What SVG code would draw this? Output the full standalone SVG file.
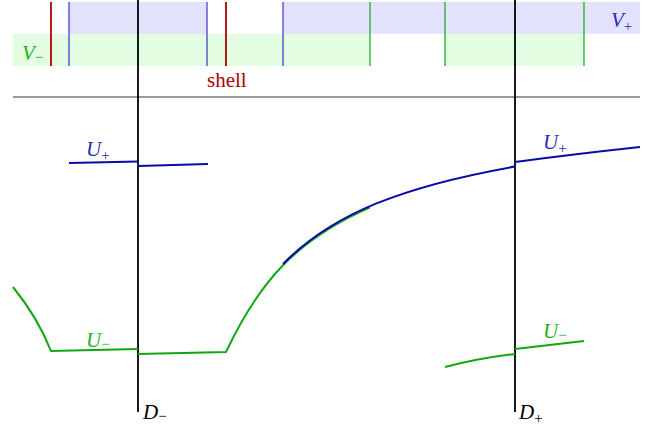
<svg xmlns="http://www.w3.org/2000/svg" width="663" height="428" viewBox="0 0 663 428">
<style>
.bandB{fill:#e2e2fd;}
.bandG{fill:#e2fde2;}
.vb{stroke:#3535c8;stroke-width:1.2;}
.vg{stroke:#10a810;stroke-width:1.2;}
.vr{stroke:#b00000;stroke-width:1.8;}
.ax{stroke:#000;stroke-width:1.8;fill:none;}
.cb{stroke:#0a0aa6;stroke-width:2;fill:none;}
.cg{stroke:#10a810;stroke-width:2;fill:none;}
text{font-family:"Liberation Serif","Times New Roman",serif;font-size:21px;}
.lab{font-style:italic;}
.sub{font-size:15px;font-style:normal;}
.tb{fill:#2a2ab8;}
.tg{fill:#22b022;}
</style>
<rect width="663" height="428" fill="#fff"/>
<g id="bands">
<rect class="bandB" x="69" y="2" width="138" height="32"/>
<rect class="bandB" x="283" y="2" width="357" height="32"/>
<rect class="bandG" x="13" y="34" width="357" height="32"/>
<rect class="bandG" x="445" y="34" width="139" height="32"/>
<line class="vb" x1="69" y1="2" x2="69" y2="66"/>
<line class="vb" x1="207" y1="2" x2="207" y2="66"/>
<line class="vb" x1="283" y1="2" x2="283" y2="66"/>
<line class="vg" x1="370" y1="2" x2="370" y2="66"/>
<line class="vg" x1="445" y1="2" x2="445" y2="66"/>
<line class="vg" x1="584" y1="2" x2="584" y2="66"/>
<line class="vr" x1="51" y1="2" x2="51" y2="66"/>
<line class="vr" x1="226" y1="2" x2="226" y2="66"/>
<text class="lab tg" x="22" y="60">V<tspan class="sub" dy="2">−</tspan></text>
<text class="lab tb" x="611" y="27">V<tspan class="sub" dy="4">+</tspan></text>
<text x="207" y="87" fill="#b00000">shell</text>
</g>
<line x1="13" y1="97" x2="640" y2="97" stroke="#777" stroke-width="1.3"/>
<g id="axes">
<line class="ax" x1="138" y1="0" x2="138" y2="412"/>
<line class="ax" x1="515" y1="0" x2="515" y2="412"/>
<text class="lab" x="143" y="419">D<tspan class="sub" dy="2">−</tspan></text>
<text class="lab" x="519" y="419">D<tspan class="sub" dy="4">+</tspan></text>
</g>
<g id="green-curves">
<path class="cg" d="M13,287 Q38,318 51,351 L138,349"/>
<path class="cg" d="M138,354 L226,352 C245,312 265,283.7 283,265.3 C306.5,241.3 334.9,222.7 369.7,207.6"/>
<path class="cg" d="M445,367 Q480,358 515,354"/>
<path class="cg" d="M515,349 L584,341"/>
<text class="lab tg" x="86" y="347">U<tspan class="sub" dy="2">−</tspan></text>
<text class="lab tg" x="543" y="338">U<tspan class="sub" dy="2">−</tspan></text>
</g>
<g id="blue-curves">
<path class="cb" d="M69,163 L138,161.5"/>
<path class="cb" d="M138,166 L208,164"/>
<path class="cb" d="M283,264 C333,213 405,186 515,166.5"/>
<path class="cb" d="M515,162 Q575,154 640,147"/>
<text class="lab tb" x="86" y="156">U<tspan class="sub" dy="4">+</tspan></text>
<text class="lab tb" x="543" y="149">U<tspan class="sub" dy="4">+</tspan></text>
</g>
</svg>
